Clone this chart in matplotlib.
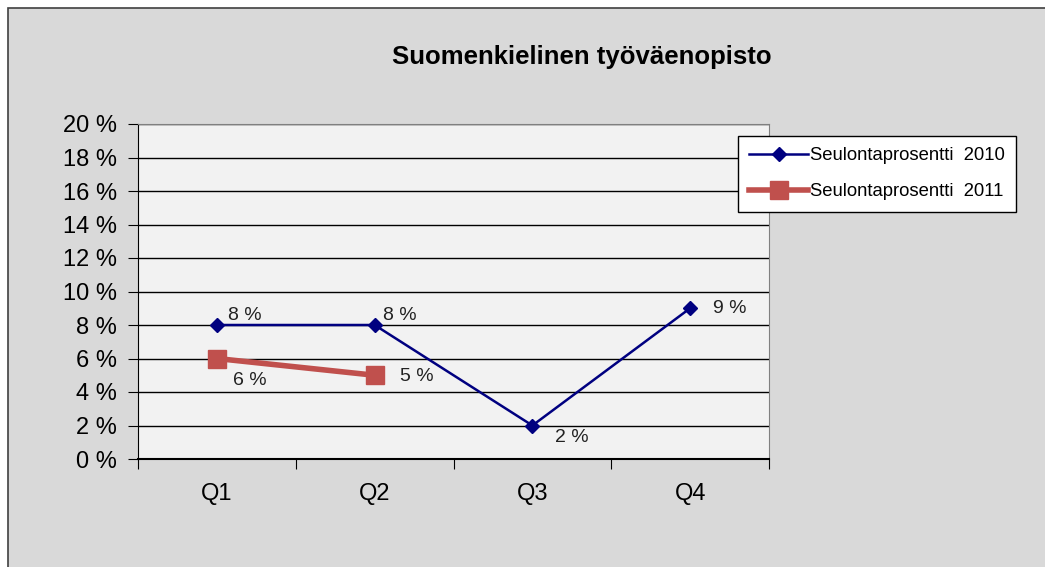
import matplotlib.pyplot as plt
from matplotlib.patches import Rectangle

plt.rcParams['font.family'] = ['Liberation Sans', 'DejaVu Sans']

categories = ['Q1', 'Q2', 'Q3', 'Q4']
values_2010 = [8, 8, 2, 9]
values_2011 = [6, 5]
labels_2010 = ['8 %', '8 %', '2 %', '9 %']
labels_2011 = ['6 %', '5 %']
y_ticks = [0, 2, 4, 6, 8, 10, 12, 14, 16, 18, 20]

fig = plt.figure(figsize=(10.45, 5.67), dpi=100)
fig.patch.set_facecolor('white')
# gray chart background with dark border
fig.patches.append(Rectangle((8 / 1045, -0.01), 1.1, 1 - 8 / 567 + 0.01,
                             transform=fig.transFigure, facecolor='#d9d9d9',
                             edgecolor='#404040', linewidth=1.2, zorder=-10))

ax = fig.add_axes([138 / 1045, 108 / 567, 631 / 1045, 335 / 567])
ax.set_zorder(1)
ax.set_facecolor('#f2f2f2')

x = [i + 0.5 for i in range(len(categories))]
ax.plot(x, values_2010, color='#000080', linewidth=1.8, marker='D', markersize=7,
        label='Seulontaprosentti  2010', zorder=3)
ax.plot(x[:len(values_2011)], values_2011, color='#c0504d', linewidth=4, marker='s',
        markersize=13, label='Seulontaprosentti  2011', zorder=4)

# data labels
offsets_2010 = [(8, 6.5), (6, 6.5), (16, -9), (16.5, 0)]
for xi, v, lab, off in zip(x, values_2010, labels_2010, offsets_2010):
    ax.annotate(lab, (xi, v), xytext=off, textcoords='offset points',
                fontsize=14, color='#222222', va='center', ha='left')
offsets_2011 = [(11.5, -16), (18, -1)]
for xi, v, lab, off in zip(x, values_2011, labels_2011, offsets_2011):
    ax.annotate(lab, (xi, v), xytext=off, textcoords='offset points',
                fontsize=14, color='#222222', va='center', ha='left')

ax.set_xlim(0, 4)
ax.set_ylim(0, 20)
ax.set_yticks(y_ticks)
ax.set_yticklabels([f'{t} %' for t in y_ticks], fontsize=17)
ax.set_xticks(range(5))
ax.set_xticklabels([])
ax.set_xticks(x, minor=True)
ax.set_xticklabels(categories, minor=True, fontsize=17)
ax.tick_params(axis='x', which='minor', length=0, pad=17)
ax.tick_params(axis='x', which='major', length=7, direction='out', color='black')
ax.tick_params(axis='y', length=7, direction='out', color='black', pad=8)
ax.grid(axis='y', color='black', linewidth=1)
ax.set_axisbelow(True)
ax.spines['left'].set_color('black')
ax.spines['bottom'].set_color('black')
ax.spines['bottom'].set_linewidth(1.5)
ax.spines['top'].set_color('#808080')
ax.spines['right'].set_color('#808080')

fig.text(582 / 1045, 1 - 57 / 567, 'Suomenkielinen työväenopisto', ha='center',
         va='center', fontsize=18.5, fontweight='bold')

leg = fig.legend(loc='upper left', bbox_to_anchor=(738 / 1045, 1 - 136 / 567),
                 frameon=True, fancybox=False, fontsize=13.3, handlelength=3.2,
                 borderaxespad=0, labelspacing=1.05, handletextpad=0.1,
                 borderpad=0.6)
leg.set_zorder(5)
leg.get_frame().set_edgecolor('black')
leg.get_frame().set_facecolor('white')
leg.get_frame().set_alpha(1)

fig.savefig('out.png', dpi=100, facecolor=fig.get_facecolor())
